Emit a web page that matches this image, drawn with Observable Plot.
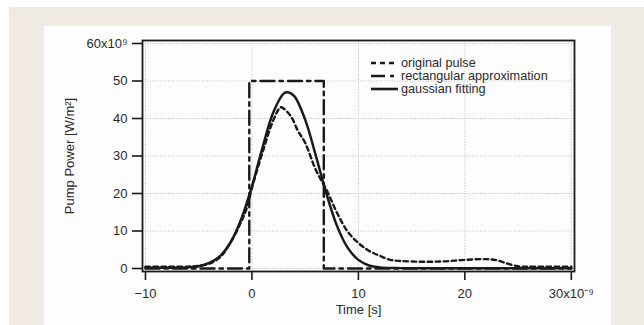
<!DOCTYPE html>
<html>
<head>
<meta charset="utf-8">
<script src="https://cdn.jsdelivr.net/npm/d3@7"></script>
<script src="https://cdn.jsdelivr.net/npm/@observablehq/plot@0.6"></script>
<style>
  html, body { margin: 0; padding: 0; background: #ffffff; }
  #page { position: relative; width: 644px; height: 325px; overflow: hidden; background: #ffffff; }
  #beige { position: absolute; left: 9px; top: 7px; width: 635px; height: 318px; background: #efebe2; }
  #panel { position: absolute; left: 44px; top: 26px; width: 567px; height: 299px; background: #fdfdfd; }
  #chart { position: absolute; left: 0; top: 0; }
  #legend { position: absolute; left: 371px; top: 56px; font-family: "Liberation Sans", Arial, sans-serif; font-size: 12.7px; color: #2a2a2a; }
  #legend .row { display: flex; align-items: center; height: 13.4px; }
  #legend svg { width: 28px; height: 8px; margin-right: 2px; }
</style>
</head>
<body>
<div id="page">
  <div id="beige"></div>
  <div id="panel"></div>
  <div id="chart"></div>
  <div id="legend"></div>
</div>
<script>
// Time in ns (axis shown ×10⁻⁹ s), power in GW/m² (axis shown ×10⁹ W/m²)
const originalT = [-10, -8, -6, -5, -4, -3, -2, -1, -0.5, 0, 1, 2, 2.7, 3, 3.7, 4.3, 5, 6, 7, 8, 9, 10, 11, 12, 13, 14, 16, 18, 20, 22, 23, 24, 25, 26, 30];
const originalP = [0.5, 0.5, 0.5, 0.7, 1.3, 3.0, 7.0, 12.5, 16, 21.5, 31, 39.5, 43, 42.6, 40.4, 36.8, 33.5, 26.3, 21, 14.8, 9.8, 6.8, 4.7, 3.4, 2.3, 2.0, 1.8, 1.9, 2.3, 2.5, 2.2, 1.3, 0.6, 0.5, 0.5];

const rectT = [-10, -0.25, -0.25, 6.75, 6.75, 30];
const rectP = [0, 0, 50, 50, 0, 0];

const gaussT = [-10, -8, -6, -5, -4, -3, -2, -1, 0, 1, 2, 3, 3.4, 4, 5, 6, 7, 8, 9, 10, 11, 12, 14, 20, 30];
const gaussP = [0.2, 0.2, 0.3, 0.6, 1.5, 3.3, 7.0, 13.2, 21.9, 32.3, 41.6, 46.7, 47, 45.9, 39.7, 30.1, 19.9, 11.3, 5.5, 2.3, 0.8, 0.3, 0.1, 0.1, 0.1];

const xTicks = [-10, 0, 10, 20, 30];
const yTicks = [0, 10, 20, 30, 40, 50, 60];
const xTopLabel = "30x10⁻⁹";
const yTopLabel = "60x10⁹";

const seriesNames = ["original pulse", "rectangular approximation", "gaussian fitting"];
const seriesDash = ["4.5,3.5", "14,5,3.5,5", null];

const toRows = (ts, ps) => ts.map((t, i) => ({t, p: ps[i]}));
const original = toRows(originalT, originalP);
const rect = toRows(rectT, rectP);
const gauss = toRows(gaussT, gaussP);

const ink = "#1a1a1a";
const textInk = "#2a2a2a";
const font = "Liberation Sans, Arial, sans-serif";

const chart = Plot.plot({
  width: 644,
  height: 325,
  marginLeft: 142,
  marginRight: 70,
  marginTop: 40,
  marginBottom: 54,
  style: {background: "transparent", fontFamily: font, fontSize: "13px", color: textInk},
  x: {domain: [-10.28, 30.3]},
  y: {domain: [-0.8, 60.8]},
  marks: [
    Plot.gridX(xTicks, {stroke: "#bdbdbd", strokeOpacity: 1, strokeDasharray: "1,1.6", strokeWidth: 1}),
    Plot.gridY(yTicks, {stroke: "#bdbdbd", strokeOpacity: 1, strokeDasharray: "1,1.6", strokeWidth: 1}),
    Plot.axisX(xTicks, {
      tickSize: 9, tickPadding: 8, stroke: ink, strokeWidth: 1.6, fill: textInk,
      tickFormat: d => d === 30 ? xTopLabel : (d < 0 ? "−" + Math.abs(d) : String(d)),
      label: "Time [s]", labelAnchor: "center", labelOffset: 42, labelArrow: "none"
    }),
    Plot.axisY(yTicks, {
      tickSize: 10, tickPadding: 5, stroke: ink, strokeWidth: 1.6, fill: textInk,
      tickFormat: d => d === 60 ? yTopLabel : String(d),
      label: "Pump Power [W/m²]", labelAnchor: "center", labelOffset: 78, labelArrow: "none"
    }),
    Plot.line(rect, {x: "t", y: "p", stroke: ink, strokeWidth: 2.4, strokeDasharray: seriesDash[1]}),
    Plot.line(original, {x: "t", y: "p", stroke: ink, strokeWidth: 2.4, strokeDasharray: seriesDash[0], curve: "catmull-rom"}),
    Plot.line(gauss, {x: "t", y: "p", stroke: ink, strokeWidth: 2.5, curve: "catmull-rom"}),
    Plot.frame({stroke: ink, strokeWidth: 1.8})
  ]
});
document.getElementById("chart").appendChild(chart);

const legend = document.getElementById("legend");
seriesNames.forEach((name, i) => {
  const row = document.createElement("div");
  row.className = "row";
  const dash = seriesDash[i] ? ` stroke-dasharray="${i === 1 ? "14,5,4,5" : "5,4"}"` : "";
  row.innerHTML = `<svg viewBox="0 0 28 8"><line x1="0" y1="4" x2="27" y2="4" stroke="${ink}" stroke-width="2.6"${dash}/></svg><span>${name}</span>`;
  legend.appendChild(row);
});
</script>
</body>
</html>
